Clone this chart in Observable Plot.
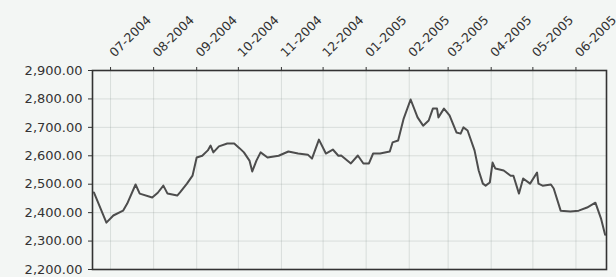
<!DOCTYPE html>
<html><head><meta charset="utf-8">
<script src="https://cdn.jsdelivr.net/npm/d3@7"></script>
<script src="https://cdn.jsdelivr.net/npm/@observablehq/plot@0.6"></script>
<style>
body{margin:0;background:#f3f6f4;}
.wrap{display:inline-block;position:relative;width:616px;height:277px;overflow:hidden;vertical-align:top}
</style></head><body><div id="c"></div>
<script>
const dates = ["2004-06-19","2004-06-28","2004-07-03","2004-07-10","2004-07-13","2004-07-19","2004-07-22","2004-07-31",
"2004-08-04","2004-08-08","2004-08-11","2004-08-18","2004-08-20","2004-08-25","2004-08-29","2004-09-01","2004-09-05",
"2004-09-09","2004-09-11","2004-09-13","2004-09-17","2004-09-23","2004-09-28","2004-10-02","2004-10-05","2004-10-09",
"2004-10-11","2004-10-14","2004-10-17","2004-10-22","2004-10-30","2004-11-06","2004-11-13","2004-11-20","2004-11-23",
"2004-11-28","2004-12-03","2004-12-08","2004-12-12","2004-12-14","2004-12-21","2004-12-26","2004-12-30","2005-01-03",
"2005-01-06","2005-01-11","2005-01-18","2005-01-20","2005-01-24","2005-01-28","2005-02-02","2005-02-07","2005-02-11",
"2005-02-15","2005-02-18","2005-02-21","2005-02-22","2005-02-26","2005-03-02","2005-03-07","2005-03-10","2005-03-12",
"2005-03-15","2005-03-20","2005-03-23","2005-03-26","2005-03-28","2005-03-31","2005-04-02","2005-04-04","2005-04-10",
"2005-04-15","2005-04-17","2005-04-21","2005-04-24","2005-04-29","2005-05-04","2005-05-05","2005-05-08","2005-05-14",
"2005-05-16","2005-05-21","2005-05-28","2005-06-03","2005-06-09","2005-06-15","2005-06-19","2005-06-22"];
const values = [2471,2365,2390,2407,2432,2499,2467,2453,
2470,2495,2467,2460,2471,2502,2530,2594,2600,
2619,2636,2612,2633,2643,2643,2626,2612,2583,
2545,2583,2612,2594,2600,2615,2608,2604,2590,
2657,2608,2622,2600,2601,2573,2601,2573,2573,
2608,2608,2615,2647,2654,2731,2798,2735,2706,
2724,2766,2766,2735,2766,2742,2682,2678,2700,
2689,2619,2548,2502,2495,2506,2576,2555,2548,
2530,2530,2467,2520,2502,2541,2502,2495,2499,
2485,2407,2404,2407,2418,2435,2380,2322];
const monthTicks = ["2004-07-01","2004-08-01","2004-09-01","2004-10-01","2004-11-01","2004-12-01",
"2005-01-01","2005-02-01","2005-03-01","2005-04-01","2005-05-01","2005-06-01"];
const yTicks = [2200,2300,2400,2500,2600,2700,2800,2900];
const xDomain = ["2004-06-18","2005-06-23"];

const data = dates.map((d,i)=>({date:new Date(d), value:values[i]}));
const mt = monthTicks.map(d=>new Date(d));
const fmtX = d3.utcFormat("%m-%Y");

const chart = Plot.plot({
  width:616, height:277,
  marginLeft:92, marginRight:10, marginTop:70, marginBottom:8,
  style:{background:"transparent", fontFamily:"'DejaVu Sans', sans-serif", fontSize:"13px", color:"#333"},
  x:{type:"utc", domain:xDomain.map(d=>new Date(d))},
  y:{domain:[2200,2900], label:null},
  marks:[
    Plot.gridX(mt, {stroke:"#7a8a84", strokeOpacity:0.22}),
    Plot.gridY(yTicks, {stroke:"#7a8a84", strokeOpacity:0.22}),
    Plot.axisY(yTicks, {tickFormat:d3.format(",.2f"), tickSize:4, tickPadding:6, stroke:"#333", label:null}),
    Plot.axisX(mt, {anchor:"top", tickFormat:()=>"", tickSize:4, stroke:"#333", label:null}),
    Plot.text(mt, {x:d=>d, frameAnchor:"top", text:d=>fmtX(d), rotate:-45, textAnchor:"start",
      dx:-2, dy:-19, fontSize:12.5, fill:"#333"}),
    Plot.frame({stroke:"#333", strokeWidth:1.6}),
    Plot.line(data, {x:"date", y:"value", stroke:"#4d4d4d", strokeWidth:2})
  ]
});
const w = document.createElement("div");
w.className = "wrap";
w.append(chart);
document.getElementById("c").append(w);
</script></body></html>
